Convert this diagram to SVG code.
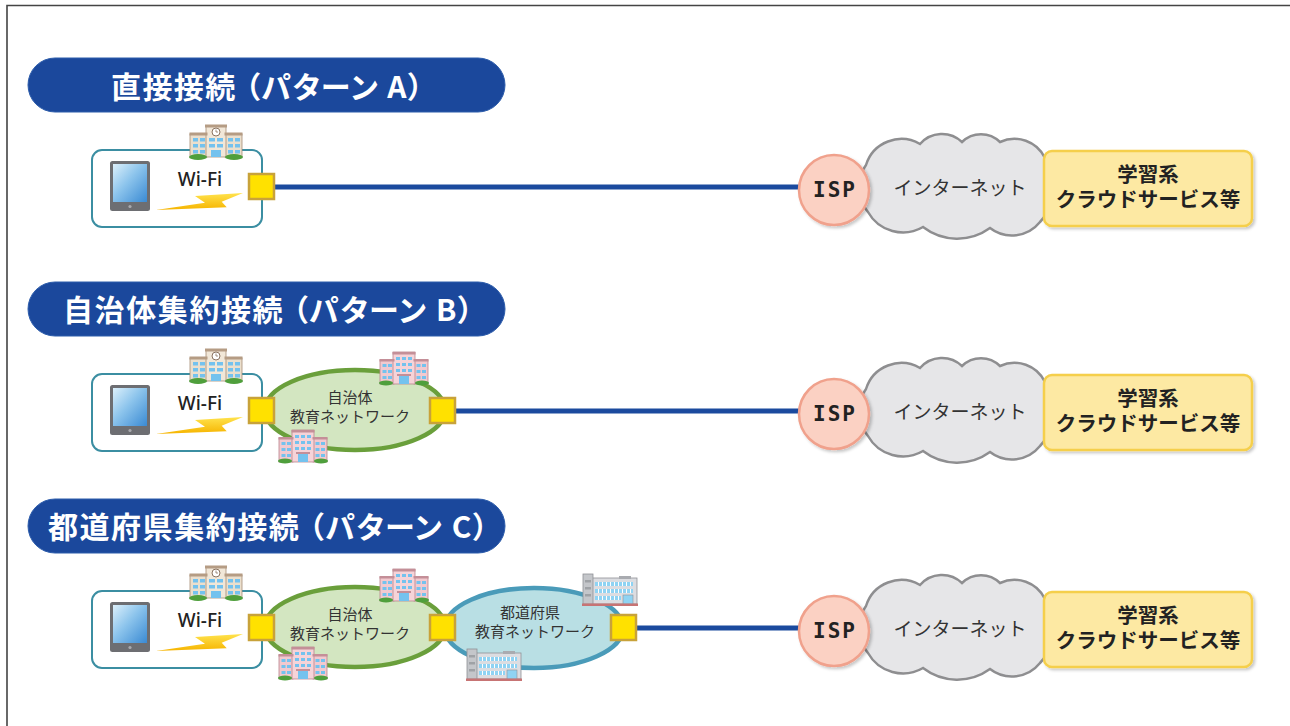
<svg xmlns="http://www.w3.org/2000/svg" width="1290" height="726" viewBox="0 0 1290 726">
<style>
.hdr { fill:#1b489c; stroke:#2c5cab; stroke-width:1; }
.hdr-t { font-family:"Noto Sans CJK JP","Noto Sans",sans-serif; font-weight:700; font-size:30px; fill:#fff; text-anchor:middle; font-feature-settings:"palt"; }
.term { fill:#fff; stroke:#3b8ea2; stroke-width:2; }
.wifi { font-family:"Noto Sans","Noto Sans CJK JP",sans-serif; font-weight:500; font-size:19px; fill:#222; text-anchor:middle; }
.port { fill:#ffe100; stroke:#c8a23a; stroke-width:2.5; }
.link { fill:none; stroke:#1b4a9e; stroke-width:5; }
.isp { fill:#fbd1c3; stroke:#f0a18c; stroke-width:2.5; }
.isp-t { font-family:"DejaVu Sans Mono",monospace; font-weight:700; font-size:21px; fill:#222; text-anchor:middle; letter-spacing:2px; }
.cloud { fill:#e6e6e8; stroke:#8e8e90; stroke-width:2.5; }
.net-t { font-family:"Noto Sans CJK JP",sans-serif; font-size:19px; fill:#333; text-anchor:middle; }
.svc { fill:#fde9a3; stroke:#f5cf4c; stroke-width:2.5; }
.svc-t { font-family:"Noto Sans CJK JP",sans-serif; font-weight:700; font-size:20.5px; fill:#222; text-anchor:middle; }
.town { fill:#d3e6c1; stroke:#6a9f3b; stroke-width:4.5; }
.pref { fill:#b9dfe4; stroke:#4a9bb9; stroke-width:4.5; }
.area-t { font-family:"Noto Sans CJK JP",sans-serif; font-size:15px; fill:#333; text-anchor:middle; }
.win { fill:#74c2ee; }
</style>
<defs>
  <linearGradient id="scr" x1="0" y1="0" x2="1" y2="1">
    <stop offset="0" stop-color="#dcf0fb"/>
    <stop offset="0.45" stop-color="#8cc4ec"/>
    <stop offset="1" stop-color="#3a8ad3"/>
  </linearGradient>
  <linearGradient id="boltG" x1="0" y1="0" x2="0" y2="1">
    <stop offset="0" stop-color="#ffe34d"/>
    <stop offset="1" stop-color="#f6b400"/>
  </linearGradient>
  <pattern id="winP" width="4" height="4" patternUnits="userSpaceOnUse">
    <rect width="4" height="4" fill="#fff"/>
    <rect width="3" height="4" fill="#8fd3f3"/>
  </pattern>
  <filter id="sh" x="-10%" y="-10%" width="125%" height="130%">
    <feDropShadow dx="2" dy="2" stdDeviation="1.5" flood-color="#000" flood-opacity="0.22"/>
  </filter>

  <!-- tablet terminal, 40x50 -->
  <g id="tablet">
    <rect width="40" height="50" rx="2.5" fill="#6d6e72"/>
    <rect x="3" y="3" width="34" height="38" fill="url(#scr)"/>
    <circle cx="20" cy="45.5" r="1.6" fill="#a9aaae"/>
  </g>

  <!-- school, 52x37 -->
  <g id="school">
    <rect x="0" y="11" width="17" height="23" fill="#ebdfcd" stroke="#a58d75" stroke-width="0.8"/>
    <rect x="35" y="11" width="17" height="23" fill="#ebdfcd" stroke="#a58d75" stroke-width="0.8"/>
    <rect x="16" y="3" width="20" height="31" fill="#f1e7d8" stroke="#a58d75" stroke-width="0.8"/>
    <rect x="-0.5" y="9.5" width="18" height="3" fill="#b59c84"/>
    <rect x="34.5" y="9.5" width="18" height="3" fill="#b59c84"/>
    <rect x="15" y="1.5" width="22" height="3" fill="#b59c84"/>
    <circle cx="26" cy="9" r="4" fill="#fff" stroke="#8b7461" stroke-width="1"/>
    <path d="M26 6.5V9h2" stroke="#8b7461" fill="none" stroke-width="0.8"/>
    <g class="win">
      <rect x="3" y="15" width="5" height="3.5"/><rect x="10" y="15" width="5" height="3.5"/>
      <rect x="3" y="21" width="5" height="3.5"/><rect x="10" y="21" width="5" height="3.5"/>
      <rect x="3" y="27" width="5" height="3.5"/><rect x="10" y="27" width="5" height="3.5"/>
      <rect x="38" y="15" width="5" height="3.5"/><rect x="45" y="15" width="5" height="3.5"/>
      <rect x="38" y="21" width="5" height="3.5"/><rect x="45" y="21" width="5" height="3.5"/>
      <rect x="38" y="27" width="5" height="3.5"/><rect x="45" y="27" width="5" height="3.5"/>
      <rect x="19" y="15" width="6" height="3.5"/><rect x="27" y="15" width="6" height="3.5"/>
      <rect x="19" y="21" width="6" height="3.5"/><rect x="27" y="21" width="6" height="3.5"/>
      <rect x="21" y="27" width="10" height="7"/>
    </g>
    <ellipse cx="8" cy="34" rx="9" ry="3" fill="#4f9f3c"/>
    <ellipse cx="44" cy="34" rx="9" ry="3" fill="#4f9f3c"/>
  </g>

  <!-- municipal building, 48x33 -->
  <g id="townBldg">
    <rect x="0" y="8" width="14" height="24" fill="#f2c9cf" stroke="#b9848d" stroke-width="0.8"/>
    <rect x="34" y="8" width="14" height="24" fill="#f2c9cf" stroke="#b9848d" stroke-width="0.8"/>
    <rect x="13" y="0" width="22" height="32" fill="#f6d3d8" stroke="#b9848d" stroke-width="0.8"/>
    <rect x="-0.5" y="7" width="15" height="2.5" fill="#c48f98"/>
    <rect x="33.5" y="7" width="15" height="2.5" fill="#c48f98"/>
    <rect x="12.5" y="0" width="23" height="2.5" fill="#c48f98"/>
    <g class="win">
      <rect x="2.5" y="12" width="4" height="3"/><rect x="8" y="12" width="4" height="3"/>
      <rect x="2.5" y="18" width="4" height="3"/><rect x="8" y="18" width="4" height="3"/>
      <rect x="2.5" y="24" width="4" height="3"/><rect x="8" y="24" width="4" height="3"/>
      <rect x="36.5" y="12" width="4" height="3"/><rect x="42" y="12" width="4" height="3"/>
      <rect x="36.5" y="18" width="4" height="3"/><rect x="42" y="18" width="4" height="3"/>
      <rect x="36.5" y="24" width="4" height="3"/><rect x="42" y="24" width="4" height="3"/>
      <rect x="16" y="5" width="4" height="3"/><rect x="22" y="5" width="4" height="3"/><rect x="28" y="5" width="4" height="3"/>
      <rect x="16" y="11" width="4" height="3"/><rect x="22" y="11" width="4" height="3"/><rect x="28" y="11" width="4" height="3"/>
      <rect x="16" y="17" width="4" height="3"/><rect x="22" y="17" width="4" height="3"/><rect x="28" y="17" width="4" height="3"/>
      <rect x="19" y="24" width="10" height="8"/>
    </g>
    <rect x="17" y="22" width="14" height="2" fill="#c48f98"/>
    <ellipse cx="6" cy="31" rx="7" ry="2.5" fill="#4f9f3c"/>
    <ellipse cx="42" cy="31" rx="7" ry="2.5" fill="#4f9f3c"/>
  </g>

  <!-- prefectural building, 54x32 -->
  <g id="prefBldg">
    <rect x="8" y="4" width="46" height="26" fill="#dcdde1" stroke="#8f9196" stroke-width="0.8"/>
    <rect x="0" y="0" width="10" height="30" fill="#c4c6ca" stroke="#8f9196" stroke-width="0.8"/>
    <rect x="36" y="2" width="12" height="3" fill="#a9abb0"/>
    <rect x="12" y="8" width="38" height="4" fill="url(#winP)"/>
    <rect x="12" y="15" width="38" height="4" fill="url(#winP)"/>
    <rect x="12" y="22" width="26" height="4" fill="url(#winP)"/>
    <rect x="2" y="6" width="6" height="2.5" fill="#9fa2a6"/>
    <rect x="2" y="13" width="6" height="2.5" fill="#9fa2a6"/>
    <rect x="2" y="20" width="6" height="2.5" fill="#9fa2a6"/>
    <rect x="40" y="21" width="10" height="9" fill="#8fd3f3" stroke="#8f9196" stroke-width="0.6"/>
    <rect x="-1" y="29.5" width="56" height="2.5" fill="#c77474"/>
  </g>

  <!-- the internet cloud, drawn at the first row -->
  <path id="cloud" class="cloud" d="M866,165 A37,37 0 0 1 920,144 A29,29 0 0 1 962,142 A27,27 0 0 1 1000,142 A34,34 0 0 1 1045,158 A49,49 0 0 1 1040,222 A36,36 0 0 1 990,228 A56,56 0 0 1 923,227 A40,40 0 0 1 868,212 A38,38 0 0 1 866,165 Z"/>

  <!-- wireless bolt, first row -->
  <polygon id="bolt" points="156,210 205,202.7 195,196 243,193 221.7,201.7 226.7,207.3" fill="url(#boltG)"/>
</defs>

<!-- page frame -->
<path d="M7,726 V5.5 H1290" fill="none" stroke="#444" stroke-width="1.6"/>

<!-- section headers -->
<g id="header-a">
  <rect class="hdr" x="28" y="58" width="477" height="54" rx="27"/>
  <text class="hdr-t" x="267" y="98" textLength="312" lengthAdjust="spacing">直接接続 （パターン A）</text>
</g>
<g id="header-b">
  <rect class="hdr" x="28" y="282" width="477" height="54" rx="27"/>
  <text class="hdr-t" x="268" y="321" textLength="410" lengthAdjust="spacing">自治体集約接続 （パターン B）</text>
</g>
<g id="header-c">
  <rect class="hdr" x="28" y="499" width="477" height="54" rx="27"/>
  <text class="hdr-t" x="268" y="538" textLength="440" lengthAdjust="spacing">都道府県集約接続 （パターン C）</text>
</g>

<!-- school terminals (Wi-Fi) -->
<g id="school-a">
  <rect class="term" x="92" y="150" width="170" height="77" rx="10"/>
  <use href="#tablet" x="110" y="161"/>
  <use href="#bolt"/>
  <text class="wifi" x="200" y="186">Wi-Fi</text>
  <use href="#school" x="190" y="123"/>
</g>
<g id="school-b" transform="translate(0,224)">
  <rect class="term" x="92" y="150" width="170" height="77" rx="10"/>
  <use href="#tablet" x="110" y="161"/>
  <use href="#bolt"/>
  <text class="wifi" x="200" y="186">Wi-Fi</text>
  <use href="#school" x="190" y="123"/>
</g>
<g id="school-c" transform="translate(0,441)">
  <rect class="term" x="92" y="150" width="170" height="77" rx="10"/>
  <use href="#tablet" x="110" y="161"/>
  <use href="#bolt"/>
  <text class="wifi" x="200" y="186">Wi-Fi</text>
  <use href="#school" x="190" y="123"/>
</g>

<!-- municipal education networks -->
<g id="town-net-b">
  <ellipse class="town" cx="355" cy="410" rx="90" ry="40"/>
  <text class="area-t" x="350" y="403">自治体<tspan x="350" dy="19">教育ネットワーク</tspan></text>
  <use href="#townBldg" x="380" y="352"/>
  <use href="#townBldg" x="279" y="430"/>
</g>
<g id="town-net-c">
  <ellipse class="town" cx="355" cy="627" rx="90" ry="40"/>
  <text class="area-t" x="350" y="620">自治体<tspan x="350" dy="19">教育ネットワーク</tspan></text>
  <use href="#townBldg" x="380" y="569"/>
  <use href="#townBldg" x="279" y="647"/>
</g>

<!-- prefectural education network -->
<g id="pref-net-c">
  <ellipse class="pref" cx="534" cy="628" rx="89" ry="40"/>
  <text class="area-t" x="530" y="618">都道府県<tspan x="535" dy="19">教育ネットワーク</tspan></text>
  <use href="#prefBldg" x="583" y="574"/>
  <use href="#prefBldg" x="467" y="649"/>
</g>

<!-- uplinks -->
<g id="connectors">
  <path class="link" d="M274,187 H805"/>
  <path class="link" d="M456,411 H805"/>
  <path class="link" d="M637,628 H805"/>
</g>

<!-- ports -->
<g id="ports">
  <rect class="port" x="249" y="174" width="25" height="25"/>
  <rect class="port" x="249" y="398" width="25" height="25"/>
  <rect class="port" x="430" y="398" width="25" height="25"/>
  <rect class="port" x="249" y="615" width="25" height="25"/>
  <rect class="port" x="430" y="615" width="25" height="25"/>
  <rect class="port" x="611" y="615" width="25" height="25"/>
</g>

<!-- internet side, one row each -->
<g id="internet-a">
  <use href="#cloud"/>
  <text class="net-t" x="960" y="195">インターネット</text>
</g>
<g id="isp-a">
  <circle class="isp" cx="834" cy="190" r="35" filter="url(#sh)"/>
  <text class="isp-t" x="835" y="197">ISP</text>
</g>
<g id="cloud-svc-a">
  <rect class="svc" x="1044" y="151" width="208" height="75" rx="8" filter="url(#sh)"/>
  <text class="svc-t" x="1148" y="182">学習系<tspan x="1148" dy="25">クラウドサービス等</tspan></text>
</g>

<g id="internet-b" transform="translate(0,224)">
  <use href="#cloud"/>
  <text class="net-t" x="960" y="195">インターネット</text>
</g>
<g id="isp-b" transform="translate(0,224)">
  <circle class="isp" cx="834" cy="190" r="35" filter="url(#sh)"/>
  <text class="isp-t" x="835" y="197">ISP</text>
</g>
<g id="cloud-svc-b" transform="translate(0,224)">
  <rect class="svc" x="1044" y="151" width="208" height="75" rx="8" filter="url(#sh)"/>
  <text class="svc-t" x="1148" y="182">学習系<tspan x="1148" dy="25">クラウドサービス等</tspan></text>
</g>

<g id="internet-c" transform="translate(0,441)">
  <use href="#cloud"/>
  <text class="net-t" x="960" y="195">インターネット</text>
</g>
<g id="isp-c" transform="translate(0,441)">
  <circle class="isp" cx="834" cy="190" r="35" filter="url(#sh)"/>
  <text class="isp-t" x="835" y="197">ISP</text>
</g>
<g id="cloud-svc-c" transform="translate(0,441)">
  <rect class="svc" x="1044" y="151" width="208" height="75" rx="8" filter="url(#sh)"/>
  <text class="svc-t" x="1148" y="182">学習系<tspan x="1148" dy="25">クラウドサービス等</tspan></text>
</g>
</svg>
